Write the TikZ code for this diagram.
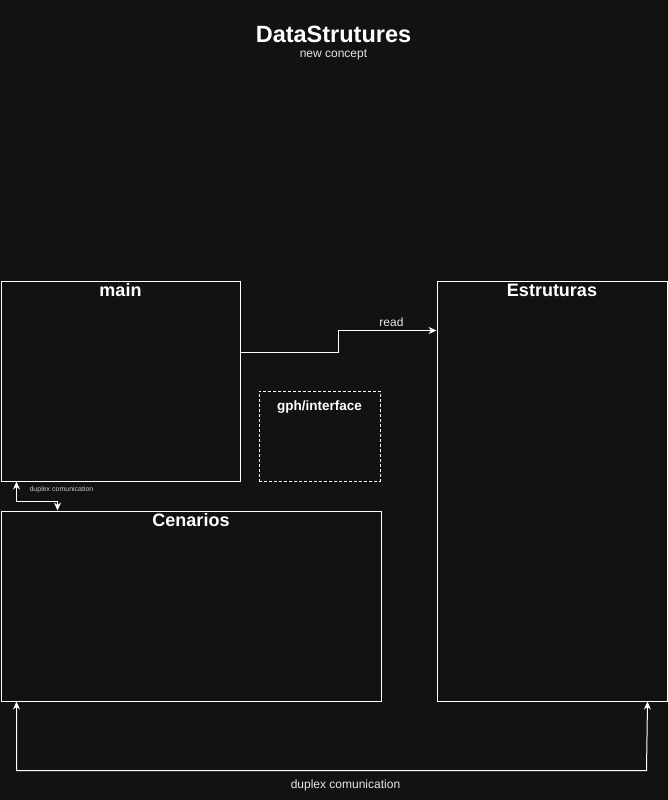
\documentclass[tikz,border=0pt]{standalone}
\usepackage{fontspec}
\setmainfont{Liberation Sans}
\usetikzlibrary{arrows.meta,calc}
\definecolor{bg}{HTML}{121212}
\definecolor{labelgrey}{HTML}{E6E6E6}
\tikzset{
  px/.style={x=1pt,y=-1pt},
  box/.style={draw=white,line width=1pt,fill=bg,inner sep=0pt,anchor=north west},
  dashbox/.style={box,dashed,dash pattern=on 3pt off 2pt},
  boxtitle/.style={text=white,font=\bfseries\fontsize{18}{20}\selectfont,anchor=center},
  link/.style={draw=white,line width=1pt,-{Stealth[length=8pt,width=7pt]}},
  biglink/.style={draw=white,line width=1pt,{Stealth[length=8pt,width=7pt]}-{Stealth[length=8pt,width=7pt]}},
  lbl/.style={text=labelgrey,font=\fontsize{12}{14}\selectfont,inner sep=0pt},
}
\begin{document}
\begin{tikzpicture}[px]
  % canvas
  \fill[bg] (0,0) rectangle (668,800);
  \useasboundingbox (0,0) rectangle (668,800);

  % heading
  \node[text=white,font=\bfseries\fontsize{23.5}{26}\selectfont,inner sep=0pt] (title) at (333.5,34) {DataStrutures};
  \node[lbl,text=labelgrey] (subtitle) at (333.5,54.5) {new concept};

  % containers
  \node[box,minimum width=239pt,minimum height=200pt] (main) at (0.5,280.5) {};
  \node[box,minimum width=230pt,minimum height=420pt] (estr) at (436.5,280.5) {};
  \node[dashbox,minimum width=121pt,minimum height=90pt] (gph) at (258.5,390.5) {};
  \node[box,minimum width=380pt,minimum height=190pt] (cen) at (0.5,510.5) {};

  \node[boxtitle] (mainT) at ($(main.north)+(0,10)$) {main};
  \node[boxtitle] (estrT) at ($(estr.north)+(0,10)$) {Estruturas};
  \node[boxtitle,font=\bfseries\fontsize{13.5}{15}\selectfont] (gphT) at ($(gph.north)+(0,16.5)$) {gph/interface};
  \node[boxtitle] (cenT) at ($(cen.north)+(0,10)$) {Cenarios};

  % main -> Estruturas
  \coordinate (rdA) at ($(main.north east)+(0,72)$);
  \coordinate (rdB) at ($(estr.north west)+(0,50)$);
  \draw[link] (rdA) -- (338.5,352.5) -- (338.5,330.5) -- (rdB);
  \node[lbl] (readL) at (391.5,322.5) {read};

  % main <-> Cenarios
  \coordinate (dpA) at ($(main.south west)+(16,0)$);
  \coordinate (dpB) at ($(cen.north west)+(57,0)$);
  \draw[biglink] (dpA) -- ($(dpA)+(0,20)$) -| (dpB);
  \node[lbl,font=\fontsize{7}{8}\selectfont,text=labelgrey!85!bg] (dpL) at (61.5,490) {duplex comunication};

  % Cenarios <-> Estruturas
  \coordinate (dcA) at ($(cen.south west)+(16,0)$);
  \coordinate (dcB) at ($(estr.south east)+(-20,0)$);
  \draw[biglink] (dcA) -- (16.5,770.5) -- (646.5,770.5) -- (dcB);
  \node[lbl] (dcL) at (345.5,785) {duplex comunication};
\end{tikzpicture}
\end{document}
